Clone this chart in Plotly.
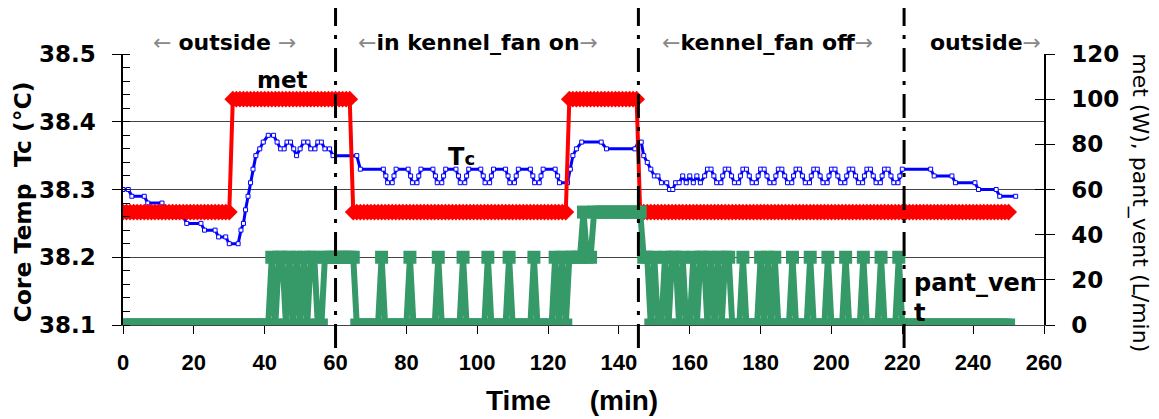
import plotly.graph_objects as go

# ---------------- data ----------------
minutes = list(range(0, 251))

met_w = [
    50, 50, 50, 50, 50, 50, 50, 50, 50, 50,
    50, 50, 50, 50, 50, 50, 50, 50, 50, 50,
    50, 50, 50, 50, 50, 50, 50, 50, 50, 50,
    50, 100, 100, 100, 100, 100, 100, 100, 100, 100,
    100, 100, 100, 100, 100, 100, 100, 100, 100, 100,
    100, 100, 100, 100, 100, 100, 100, 100, 100, 100,
    100, 100, 100, 100, 100, 50, 50, 50, 50, 50,
    50, 50, 50, 50, 50, 50, 50, 50, 50, 50,
    50, 50, 50, 50, 50, 50, 50, 50, 50, 50,
    50, 50, 50, 50, 50, 50, 50, 50, 50, 50,
    50, 50, 50, 50, 50, 50, 50, 50, 50, 50,
    50, 50, 50, 50, 50, 50, 50, 50, 50, 50,
    50, 50, 50, 50, 50, 50, 100, 100, 100, 100,
    100, 100, 100, 100, 100, 100, 100, 100, 100, 100,
    100, 100, 100, 100, 100, 100, 50, 50, 50, 50,
    50, 50, 50, 50, 50, 50, 50, 50, 50, 50,
    50, 50, 50, 50, 50, 50, 50, 50, 50, 50,
    50, 50, 50, 50, 50, 50, 50, 50, 50, 50,
    50, 50, 50, 50, 50, 50, 50, 50, 50, 50,
    50, 50, 50, 50, 50, 50, 50, 50, 50, 50,
    50, 50, 50, 50, 50, 50, 50, 50, 50, 50,
    50, 50, 50, 50, 50, 50, 50, 50, 50, 50,
    50, 50, 50, 50, 50, 50, 50, 50, 50, 50,
    50, 50, 50, 50, 50, 50, 50, 50, 50, 50,
    50, 50, 50, 50, 50, 50, 50, 50, 50, 50,
    50,
]

pant_vent = [
    0, 0, 0, 0, 0, 0, 0, 0, 0, 0,
    0, 0, 0, 0, 0, 0, 0, 0, 0, 0,
    0, 0, 0, 0, 0, 0, 0, 0, 0, 0,
    0, 0, 0, 0, 0, 0, 0, 0, 0, 0,
    0, 0, 30, 0, 30, 30, 0, 30, 0, 30,
    0, 30, 0, 30, 30, 0, 0, 30, 30, 30,
    30, 30, 30, 30, 30, 30, 0, 0, 0, 0,
    0, 0, 0, 30, 0, 0, 0, 0, 0, 0,
    0, 30, 0, 0, 0, 0, 0, 0, 0, 30,
    0, 0, 0, 0, 0, 0, 30, 0, 0, 0,
    0, 0, 0, 30, 0, 0, 0, 0, 0, 30,
    0, 0, 0, 0, 0, 0, 30, 0, 0, 0,
    0, 0, 30, 0, 30, 0, 30, 30, 30, 30,
    50, 30, 30, 50, 50, 50, 50, 50, 50, 50,
    50, 50, 50, 50, 50, 50, 50, 30, 30, 0,
    30, 0, 0, 30, 0, 30, 30, 0, 30, 0,
    0, 30, 0, 30, 30, 0, 30, 0, 30, 0,
    30, 30, 0, 0, 0, 30, 0, 0, 0, 0,
    30, 0, 30, 0, 30, 0, 0, 0, 0, 30,
    0, 0, 0, 0, 30, 0, 0, 0, 0, 30,
    0, 0, 0, 0, 30, 0, 0, 0, 0, 30,
    0, 0, 0, 0, 30, 0, 0, 0, 0, 30,
    0, 0, 0, 0, 0, 0, 0, 0, 0, 0,
    0, 0, 0, 0, 0, 0, 0, 0, 0, 0,
    0, 0, 0, 0, 0, 0, 0, 0, 0, 0,
    0,
]

tc_min = [
    0, 1.5, 2.5, 6, 7, 11, 12, 14, 15, 17, 18, 22, 23, 26, 27, 29, 30, 32.5,
    33.3, 34, 34.6, 35.3, 36, 36.7, 37.5, 38.6, 39.6, 41, 42.5,
    43.5, 44.5, 45.5, 46.3, 47.3, 48.2, 49, 50, 51, 52.2, 53, 54.2, 55, 56,
    57, 58.3, 59.3, 66, 67,
    73.5, 74.2, 74.7, 76, 76.5, 77.1,
    80.5, 81.2, 81.7, 83, 83.5, 84.1,
    87.5, 88.2, 88.7, 90, 90.5, 91.1,
    94, 94.7, 95.2, 96.5, 97, 97.6,
    101, 101.7, 102.2, 103.5, 104, 104.6,
    108, 108.7, 109.2, 110.5, 111, 111.6,
    115, 115.7, 116.2, 117.5, 118, 118.6,
    122, 122.7, 123.2, 125.5,
    126.3, 127, 128, 129.5, 135, 136.5, 144.5, 145.5, 146.3, 147, 148, 149,
    150, 151, 152, 153.5, 154.3, 155.2, 156, 157, 158, 159, 160, 161, 162,
    163, 164.2,
    165, 166, 166.8, 167.6, 168.8, 169.3,
    170, 171, 171.8, 172.6, 173.8, 174.3,
    175, 176, 176.8, 177.6, 178.8, 179.3,
    180, 181, 181.8, 182.6, 183.8, 184.3,
    185, 186, 186.8, 187.6, 188.8, 189.3,
    190, 191, 191.8, 192.6, 193.8, 194.3,
    195, 196, 196.8, 197.6, 198.8, 199.3,
    200, 201, 201.8, 202.6, 203.8, 204.3,
    205, 206, 206.8, 207.6, 208.8, 209.3,
    210, 211, 211.8, 212.6, 213.8, 214.3,
    215, 216, 216.8, 217.6, 218.8, 219.3,
    220, 228, 229, 234, 235, 240.5, 241.5, 246.5, 247.5, 252,
]

tc_degc = [
    38.30, 38.30, 38.29, 38.29, 38.28, 38.28, 38.27, 38.27, 38.26, 38.26,
    38.25, 38.25, 38.24, 38.24, 38.23, 38.23, 38.22, 38.22,
    38.24, 38.25, 38.27, 38.29, 38.31, 38.33, 38.35, 38.36, 38.37, 38.38, 38.38,
    38.37, 38.36, 38.36, 38.37, 38.37, 38.36, 38.35, 38.36, 38.37, 38.37,
    38.36, 38.36, 38.37, 38.37, 38.36, 38.36, 38.35, 38.35, 38.33,
    38.33, 38.32, 38.31, 38.31, 38.32, 38.33,
    38.33, 38.32, 38.31, 38.31, 38.32, 38.33,
    38.33, 38.32, 38.31, 38.31, 38.32, 38.33,
    38.33, 38.32, 38.31, 38.31, 38.32, 38.33,
    38.33, 38.32, 38.31, 38.31, 38.32, 38.33,
    38.33, 38.32, 38.31, 38.31, 38.32, 38.33,
    38.33, 38.32, 38.31, 38.31, 38.32, 38.33,
    38.33, 38.32, 38.31, 38.31,
    38.33, 38.35, 38.36, 38.37, 38.37, 38.36, 38.36, 38.37, 38.37, 38.35,
    38.34, 38.33,
    38.32, 38.32, 38.31, 38.31, 38.30, 38.30, 38.31, 38.31, 38.32, 38.31,
    38.32, 38.31, 38.32, 38.31, 38.32,
    38.33, 38.33, 38.32, 38.31, 38.31, 38.32,
    38.33, 38.33, 38.32, 38.31, 38.31, 38.32,
    38.33, 38.33, 38.32, 38.31, 38.31, 38.32,
    38.33, 38.33, 38.32, 38.31, 38.31, 38.32,
    38.33, 38.33, 38.32, 38.31, 38.31, 38.32,
    38.33, 38.33, 38.32, 38.31, 38.31, 38.32,
    38.33, 38.33, 38.32, 38.31, 38.31, 38.32,
    38.33, 38.33, 38.32, 38.31, 38.31, 38.32,
    38.33, 38.33, 38.32, 38.31, 38.31, 38.32,
    38.33, 38.33, 38.32, 38.31, 38.31, 38.32,
    38.33, 38.33, 38.32, 38.31, 38.31, 38.32,
    38.33, 38.33, 38.32, 38.32, 38.31, 38.31, 38.30, 38.30, 38.29, 38.29,
]

x_ticks = [0, 20, 40, 60, 80, 100, 120, 140, 160, 180, 200, 220, 240, 260]
phase_bounds = [60, 145.5, 220.5]
phase_words = ["outside", "in kennel_fan on", "kennel_fan off", "outside"]

# ---------------- figure ----------------
FONT = "DejaVu Sans, Verdana, sans-serif"
XFONT = "Liberation Sans, Arial, sans-serif"
ARROW_L = ("<span style='color:#888888;font-weight:normal;"
           "font-family:DejaVu Sans;font-size:22px'>\u2190</span>")
ARROW_R = ("<span style='color:#888888;font-weight:normal;"
           "font-family:DejaVu Sans;font-size:22px'>\u2192</span>")

fig = go.Figure()

fig.add_trace(go.Scatter(
    x=tc_min, y=tc_degc, yaxis="y", mode="lines+markers",
    line=dict(color="#0000ff", width=3),
    marker=dict(symbol="square", size=4, color="white",
                line=dict(color="#0000ff", width=1)),
    hoverinfo="skip"))

fig.add_trace(go.Scatter(
    x=minutes, y=met_w, yaxis="y2", mode="lines+markers",
    line=dict(color="#ff0000", width=4),
    marker=dict(symbol="diamond", size=13, color="#ff0000"),
    hoverinfo="skip"))

fig.add_trace(go.Scatter(
    x=minutes, y=pant_vent, yaxis="y2", mode="lines+markers",
    line=dict(color="#359968", width=6),
    marker=dict(symbol="square", size=13, color="#359968"),
    hoverinfo="skip"))

fig.add_trace(go.Scatter(x=[0], y=[None], yaxis="y3", mode="lines",
                         hoverinfo="skip"))

shapes = []
for b in phase_bounds:
    shapes.append(dict(type="line", xref="x", yref="paper", x0=b, x1=b,
                       y0=-0.085, y1=1.17, layer="above",
                       line=dict(color="black", width=3,
                                 dash="24px,9px,4px,9px")))

bold = dict(family=FONT, size=22, color="black")
annotations = [
    dict(text=ARROW_L + " <b>" + phase_words[0] + "</b> " + ARROW_R,
         x=0.1097, y=1.0406),
    dict(text=ARROW_L + "<b>" + phase_words[1] + "</b>" + ARROW_R,
         x=0.3855, y=1.0406),
    dict(text=ARROW_L + "<b>" + phase_words[2] + "</b>" + ARROW_R,
         x=0.7003, y=1.0406),
    dict(text="<b>" + phase_words[3] + "</b>" + ARROW_R,
         x=0.936, y=1.0406),
    dict(text="<b>met</b>", x=0.1737, y=0.904,
         font=dict(family=FONT, size=23, color="black")),
    dict(text="<b>T</b><span style='font-size:18px'><b>c</b></span>",
         x=0.367, y=0.62, font=dict(family=FONT, size=24, color="black")),
    dict(text="<b>pant_ven</b>", x=0.857, y=0.155, xanchor="left",
         font=dict(family=FONT, size=24, color="black")),
    dict(text="<b>t</b>", x=0.857, y=0.044, xanchor="left",
         font=dict(family=FONT, size=24, color="black")),
    dict(text="<b>Core Temp&nbsp;&nbsp;Tc (°C)</b>", x=-0.109, y=0.454,
         textangle=-90, font=dict(family=FONT, size=23.5, color="black")),
    dict(text="met (W), pant_vent (L/min)", x=1.104, y=0.45,
         textangle=90, font=dict(family=FONT, size=22, color="black")),
    dict(text="<b>Time&nbsp;&nbsp;&nbsp;&nbsp;&nbsp;(min)</b>", x=0.4875,
         y=-0.28, font=dict(family=XFONT, size=28, color="black")),
]
for a in annotations:
    a.setdefault("xref", "paper")
    a.setdefault("yref", "paper")
    a.setdefault("showarrow", False)
    a.setdefault("xanchor", "center")
    a.setdefault("yanchor", "middle")
    a.setdefault("font", bold)

tickfont_y = dict(family=FONT, size=23, color="black", weight="bold")
tickfont_x = dict(family=XFONT, size=22, color="black", weight="bold")

# the written page's body has an 8px margin: shrink the figure by that much
fig.update_layout(
    width=1151, height=411,
    margin=dict(l=115, r=115, t=46, b=94),
    plot_bgcolor="white", paper_bgcolor="white",
    showlegend=False,
    shapes=shapes,
    annotations=annotations,
    xaxis=dict(range=[0, 260], tickvals=x_ticks, ticks="outside", ticklen=8,
               tickcolor="black", showline=True, linecolor="#444444",
               showgrid=False, zeroline=False, tickfont=tickfont_x,
               ticklabelstandoff=10),
    yaxis=dict(range=[38.1, 38.5], dtick=0.1, tick0=38.1, tickformat=".1f",
               ticks="outside", ticklen=9, tickcolor="black",
               showline=True, linecolor="black", linewidth=1.5,
               showgrid=True, gridcolor="#444444", gridwidth=1,
               zeroline=False, tickfont=tickfont_y, ticklabelstandoff=12,
               minor=dict(dtick=0.02, tick0=38.1, ticks="inside", ticklen=7,
                          tickcolor="black", showgrid=False)),
    yaxis2=dict(range=[0, 120], dtick=20, overlaying="y", side="right",
                anchor="x", ticks="outside", ticklen=9, tickcolor="black",
                showline=True, linecolor="black", linewidth=1.5,
                showgrid=False, zeroline=False, tickfont=tickfont_y,
                ticklabelstandoff=12),
    yaxis3=dict(range=[0, 120], dtick=20, overlaying="y", side="right",
                anchor="x", ticks="inside", ticklen=9, tickcolor="black",
                showticklabels=False, showline=False, showgrid=False,
                zeroline=False),
)

fig.write_html("out.html")
